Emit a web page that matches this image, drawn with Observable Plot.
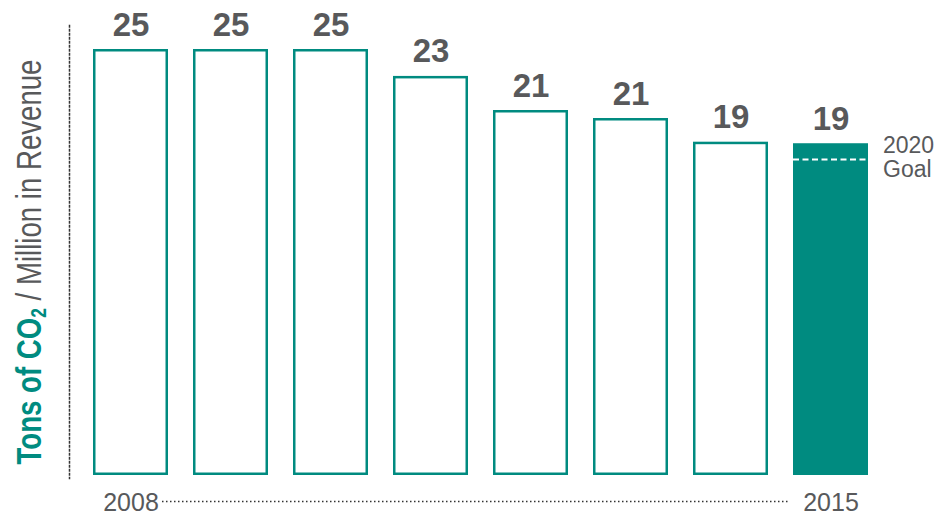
<!DOCTYPE html>
<html>
<head>
<meta charset="utf-8">
<script src="https://cdn.jsdelivr.net/npm/d3@7"></script>
<script src="https://cdn.jsdelivr.net/npm/@observablehq/plot@0.6"></script>
<style>
  html, body { margin: 0; padding: 0; background: #fff; }
  #chart { width: 943px; height: 516px; }
</style>
</head>
<body>
<div id="chart"></div>
<script>
const years = ["2008", "2009", "2010", "2011", "2012", "2013", "2014", "2015"];
const values = [25, 25, 25, 23.42, 21.42, 20.95, 19.56, 19.47];
const labels = ["25", "25", "25", "23", "21", "21", "19", "19"];
const goalYear = "2015";
const goalValue = 18.54;
const goalLabel = "2020\nGoal";
const axisYears = ["2008", "2015"];
const titleBold = "Tons of CO";
const titleSub = "2";
const titleRest = " / Million in Revenue";

const TEAL = "#008b80";
const GRAY = "#58595b";
const FONT = "'Liberation Sans', Arial, Helvetica, sans-serif";

const data = years.map((y, i) => ({year: y, value: values[i], label: labels[i]}));
const past = data.filter(d => d.year !== goalYear);
const current = data.filter(d => d.year === goalYear);
const goal = [{year: goalYear, value: goalValue, label: goalLabel}];

const chart = Plot.plot({
  width: 943,
  height: 516,
  marginLeft: 65,
  marginRight: 47,
  marginTop: 49,
  marginBottom: 41,
  style: {fontFamily: FONT, background: "#fff"},
  x: {domain: years, padding: 0.251, axis: null},
  y: {domain: [0, 25], axis: null},
  marks: [
    Plot.frame({anchor: "left", dx: 4, insetTop: -24, insetBottom: -3, stroke: "#333", strokeWidth: 1.5, strokeDasharray: "1.5 2.5"}),
    Plot.ruleY([0], {dy: 26, insetLeft: 97, insetRight: 107, stroke: "#333", strokeWidth: 1.5, strokeDasharray: "1.5 2.5"}),
    Plot.barY(past, {x: "year", y: "value", fill: "white", stroke: TEAL, strokeWidth: 2.5, inset: 1.25}),
    Plot.barY(current, {x: "year", y: "value", fill: TEAL}),
    Plot.ruleY(goal, {y: "value", x1: "year", x2: "year", stroke: "white", strokeWidth: 2, strokeDasharray: "6 3.5"}),
    Plot.text(data, {x: "year", y: "value", text: "label", lineAnchor: "bottom", dy: -14, fontSize: 33, fontWeight: "bold", fill: GRAY}),
    Plot.text(goal, {x: "year", y: "value", text: "label", textAnchor: "start", lineAnchor: "middle", dx: 52, dy: -2, fontSize: 23, lineHeight: 1.05, fill: GRAY}),
    Plot.axisX({ticks: axisYears, tickSize: 0, tickPadding: 18, fontSize: 25, fill: GRAY, label: null})
  ]
});

document.getElementById("chart").appendChild(chart);

// Multi-styled rotated y-axis title (condensed horizontally)
const svg = d3.select(chart);
const g = svg.append("g").attr("transform", "translate(41,262) rotate(-90)");
const t = g.append("text")
  .attr("text-anchor", "middle")
  .attr("font-family", FONT)
  .attr("font-size", 35);
t.append("tspan").attr("font-weight", "bold").attr("fill", TEAL).text(titleBold);
t.append("tspan").attr("font-weight", "bold").attr("fill", TEAL).attr("font-size", 22).attr("dy", 5).text(titleSub);
t.append("tspan").attr("fill", GRAY).attr("dy", -5).text(titleRest);
const w = t.node().getComputedTextLength();
g.attr("transform", `translate(41,262) rotate(-90) scale(${405 / w},1)`);
</script>
</body>
</html>
